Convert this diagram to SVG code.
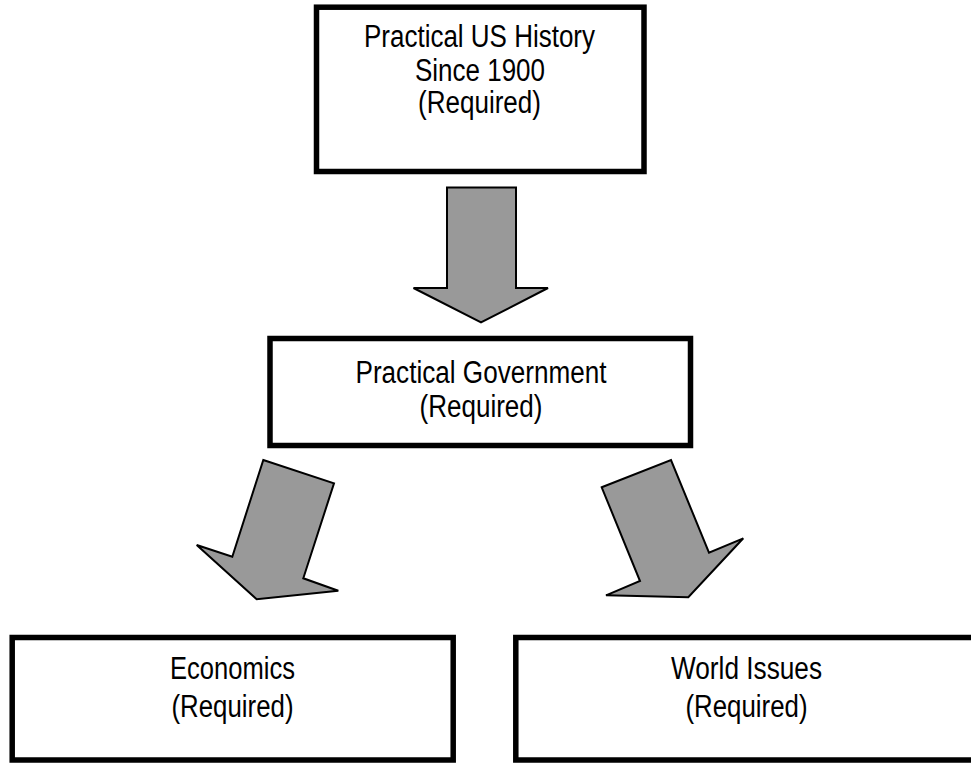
<svg xmlns="http://www.w3.org/2000/svg" width="971" height="763" viewBox="0 0 971 763">
  <style>
    .box { fill: #ffffff; stroke: #000000; stroke-width: 5.5; }
    .lbl { font-family: "Liberation Sans Narrow", "Liberation Sans", Arial, sans-serif; font-size: 31px; fill: #000000; text-anchor: middle; }
    .arrow { fill: #999999; stroke: #000000; stroke-width: 2; stroke-linejoin: miter; }
  </style>
  <rect width="971" height="763" fill="#ffffff"/>

  <!-- course boxes -->
  <g id="us-history">
    <rect class="box" x="316.5" y="7.2" width="327.5" height="164.3"/>
    <text class="lbl" x="479.5" y="47" textLength="231" lengthAdjust="spacingAndGlyphs">Practical US History</text>
    <text class="lbl" x="480" y="80.5" textLength="130" lengthAdjust="spacingAndGlyphs">Since 1900</text>
    <text class="lbl" x="479.5" y="112.5" textLength="123" lengthAdjust="spacingAndGlyphs">(Required)</text>
  </g>

  <g id="government">
    <rect class="box" x="270" y="338.5" width="420.5" height="107"/>
    <text class="lbl" x="481" y="383" textLength="251" lengthAdjust="spacingAndGlyphs">Practical Government</text>
    <text class="lbl" x="481" y="417" textLength="123" lengthAdjust="spacingAndGlyphs">(Required)</text>
  </g>

  <g id="economics">
    <rect class="box" x="12.2" y="637.5" width="441" height="122.5"/>
    <text class="lbl" x="232.5" y="679" textLength="125" lengthAdjust="spacingAndGlyphs">Economics</text>
    <text class="lbl" x="232.5" y="716.5" textLength="122" lengthAdjust="spacingAndGlyphs">(Required)</text>
  </g>

  <g id="world-issues">
    <rect class="box" x="515.8" y="637.5" width="461" height="122.5"/>
    <text class="lbl" x="746.5" y="679" textLength="151" lengthAdjust="spacingAndGlyphs">World Issues</text>
    <text class="lbl" x="746.5" y="716.5" textLength="122" lengthAdjust="spacingAndGlyphs">(Required)</text>
  </g>

  <!-- block arrows between courses -->
  <g id="connectors">
    <polygon class="arrow" points="447,187.5 516,187.5 516,288 548,288 481,322.5 413.5,288 447,288"/>
    <polygon class="arrow" points="263.3,460 334,483.3 303.3,578.3 338.3,590.7 256.7,599.3 196.7,545 232.3,556.7"/>
    <polygon class="arrow" points="601.7,487.3 671,460 709,552.7 743.3,538.3 688.3,597.3 606,595.3 640,581"/>
  </g>
</svg>
